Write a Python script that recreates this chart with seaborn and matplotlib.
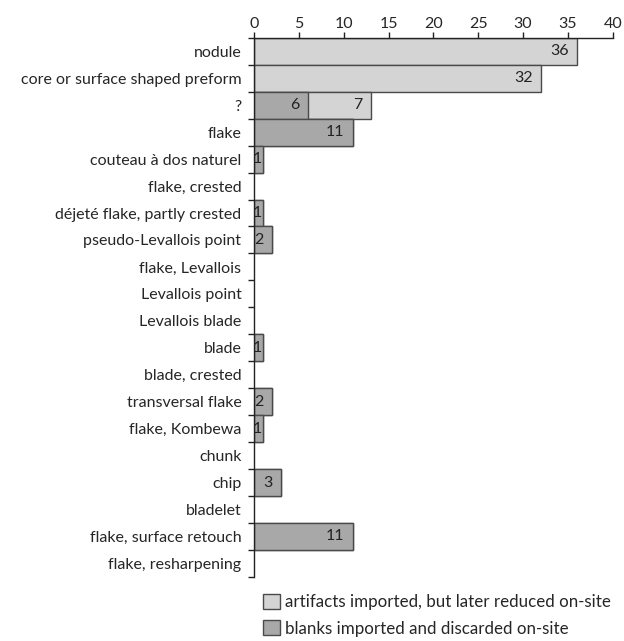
import numpy as np
import pandas as pd
import seaborn as sns
import matplotlib.pyplot as plt
from matplotlib.patches import Patch

# Data
categories = ["nodule", "core or surface shaped preform", "?", "flake",
              "couteau à dos naturel", "flake, crested", "déjeté flake, partly crested",
              "pseudo-Levallois point", "flake, Levallois", "Levallois point",
              "Levallois blade", "blade", "blade, crested", "transversal flake",
              "flake, Kombewa", "chunk", "chip", "bladelet",
              "flake, surface retouch", "flake, resharpening"]
blanks = [0, 0, 6, 11, 1, 0, 1, 2, 0, 0, 0, 1, 0, 2, 1, 0, 3, 0, 11, 0]
artifacts = [36, 32, 7, 0, 0, 0, 0, 0, 0, 0, 0, 0, 0, 0, 0, 0, 0, 0, 0, 0]
xticks = [0, 5, 10, 15, 20, 25, 30, 35, 40]

light = "#d4d4d4"
dark = "#a8a8a8"
edge = "#4a4a4a"
fs = 11.5

df = pd.DataFrame({"category": categories, "blanks": blanks, "artifacts": artifacts})
df["total"] = df["blanks"] + df["artifacts"]

sns.set_style("white")
plt.rcParams['font.family'] = ['Lato', 'DejaVu Sans']

fig = plt.figure(figsize=(6.24, 6.41), dpi=100)
ax = fig.add_axes([0.407, 0.1, 0.575, 0.841])

sns.barplot(data=df, x="total", y="category", orient="h", color=light,
            width=1.0, edgecolor=edge, linewidth=1, ax=ax)
sns.barplot(data=df, x="blanks", y="category", orient="h", color=dark,
            width=1.0, edgecolor=edge, linewidth=1, ax=ax)

# hide zero-width bars outline
for p in ax.patches:
    if p.get_width() == 0:
        p.set_visible(False)

# value labels
for i, (b, a) in enumerate(zip(blanks, artifacts)):
    if b > 0:
        ax.text(b - 0.9 if b > 1 else b - 0.1, i, str(b), ha="right", va="center",
                fontsize=fs, color="#222222")
    if a > 0:
        ax.text(b + a - 0.9, i, str(a), ha="right", va="center",
                fontsize=fs, color="#222222")

ax.set_xlim(0, 40)
ax.set_ylim(len(categories) - 0.5, -0.5)
ax.set_xticks(xticks)
ax.xaxis.tick_top()
ax.tick_params(axis="x", direction="out", length=4, width=1, color="#222222",
               labelsize=fs, pad=1, top=True, bottom=False)
ax.set_yticks(np.arange(len(categories)))
ax.set_yticklabels(categories)
ax.set_yticks(np.arange(len(categories) + 1) - 0.5, minor=True)
ax.tick_params(axis="y", which="major", length=0, labelsize=fs, pad=9)
ax.tick_params(axis="y", which="minor", direction="out", length=4, width=1,
               color="#222222", left=True)
ax.set_xlabel("")
ax.set_ylabel("")

for s in ["right", "bottom"]:
    ax.spines[s].set_visible(False)
for s in ["left", "top"]:
    ax.spines[s].set_color("#222222")
    ax.spines[s].set_linewidth(1)

handles = [Patch(facecolor=light, edgecolor=edge, label="artifacts imported, but later reduced on-site"),
           Patch(facecolor=dark, edgecolor=edge, label="blanks imported and discarded on-site")]
fig.legend(handles=handles, loc="upper left", bbox_to_anchor=(0.408, 0.087),
           frameon=False, fontsize=12.2, handlelength=1.0, handleheight=1.0,
           handletextpad=0.3, labelspacing=0.6, borderpad=0)

fig.savefig("out.png", dpi=100)
